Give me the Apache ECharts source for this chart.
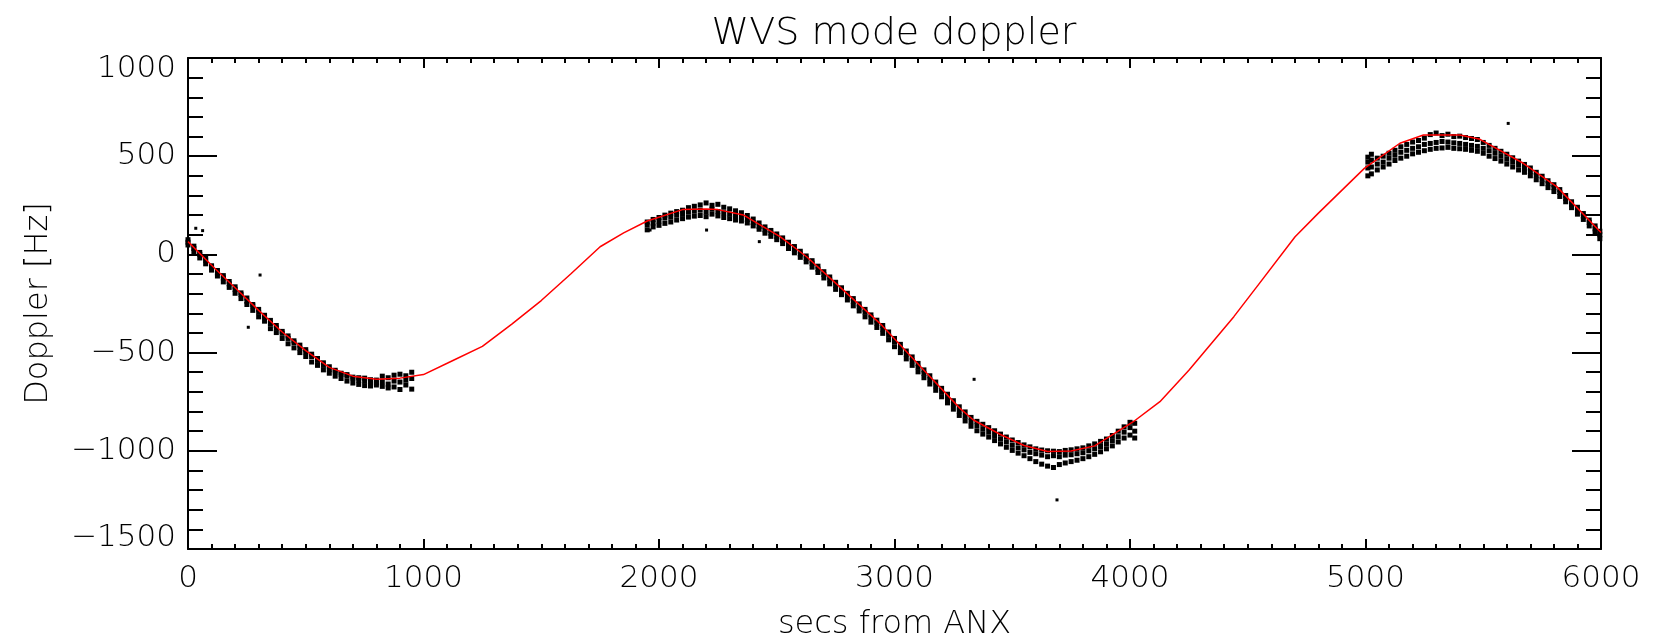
<!DOCTYPE html>
<html>
<head>
<meta charset="utf-8">
<script src="https://cdn.jsdelivr.net/npm/echarts@6/dist/echarts.min.js"></script>
<style>
html,body{margin:0;padding:0;background:#fff;}
#chart{width:1653px;height:642px;}
</style>
</head>
<body>
<div id="chart"></div>
<script>
// ---- data ----
const titleText = 'WVS mode doppler';
const xName = 'secs from ANX';
const yName = 'Doppler [Hz]';
const xTicks = [0, 1000, 2000, 3000, 4000, 5000, 6000];
const yTicks = [-1500, -1000, -500, 0, 500, 1000];

// red model curve: time (s) and doppler (Hz)
const redT  = [0,100,200,300,400,500,600,700,800,900,1000,1125,1250,1375,1500,1625,1750,1850,1950,2100,2200,2250,2358,2429,2514,2627,2750,2938,3100,3278,3335,3450,3550,3650,3750,3850,4014,4127,4250,4441,4539,4701,4799,4995,5146,5246,5401,5486,5670,5812,6000];
const redHz = [65,-55,-170,-285,-395,-490,-575,-620,-636,-630,-612,-540,-468,-355,-235,-100,39,110,170,228,231,228,201,150,90,-12,-146,-351,-558,-784,-843,-917,-973,-1004,-1001,-975,-852,-750,-590,-317,-164,90,209,438,566,608,608,586,464,345,112];

// measured points, rows of [time, doppler values...]
const segA = [
 [0,62,48,75],[25,30,14,42],[50,0,-18,10],[75,-30,-48,-20],[100,-58,-80,-66],
 [125,-95,-110,-82],[150,-120,-140,-108],[175,-150,-168,-138],[200,-178,-198,-165],
 [225,-205,-225,-196],[250,-238,-255,-222],[275,-262,-285,-255],[300,-295,-318,-280],
 [325,-318,-340,-310],[350,-352,-378,-336],[375,-375,-398,-362],[400,-402,-428,-392],
 [425,-428,-455,-415],[450,-450,-476,-440],[475,-478,-500,-462],[500,-497,-520,-485],
 [525,-520,-548,-508],[550,-540,-565,-530],[575,-565,-588,-552],[600,-585,-605,-572],
 [625,-598,-620,-590],[650,-610,-632,-605],[675,-620,-645,-612],[700,-632,-655,-625],
 [725,-640,-662,-628],[750,-645,-668,-630],[775,-650,-670,-638],[800,-640,-665,-655],
 [825,-620,-672,-648],[850,-628,-660,-680],[875,-615,-645,-675],[900,-610,-650,-688],
 [925,-618,-640,-665],[950,-600,-632,-686]
];
const segB = [
 [1950,150,125,165],[1975,160,140,178],[2000,170,148,188],[2025,185,158,200],
 [2050,190,165,210],[2075,200,175,218],[2100,205,182,225],[2125,215,190,238],
 [2150,220,195,245],[2175,225,198,252],[2200,215,192,262],[2225,230,205,250],
 [2250,218,196,255],[2275,212,188,240],[2300,205,182,232],[2325,196,175,222],
 [2350,190,170,212],[2375,178,160,198],[2400,162,145,180],[2425,142,128,160],
 [2450,125,108,140],[2475,108,92,122],[2500,90,75,104],[2525,70,55,84],
 [2550,48,30,62],[2575,25,8,40],[2600,2,-15,16],[2625,-20,-38,-8],
 [2650,-45,-65,-32],[2675,-75,-92,-60],[2700,-102,-120,-88],[2725,-130,-150,-115],
 [2750,-158,-178,-142],[2775,-185,-205,-170],[2800,-212,-232,-198],[2825,-240,-262,-225],
 [2850,-268,-288,-252],[2875,-295,-318,-280],[2900,-322,-345,-308],[2925,-350,-372,-335],
 [2950,-380,-402,-362],[2975,-412,-435,-395],[3000,-445,-470,-428],[3025,-478,-500,-458],
 [3050,-510,-532,-492],[3075,-542,-565,-522],[3100,-575,-598,-555],[3125,-606,-628,-588],
 [3150,-638,-660,-618],[3175,-670,-692,-650],[3200,-702,-725,-682],[3225,-734,-756,-712],
 [3250,-765,-788,-745],[3275,-798,-820,-776],[3300,-825,-848,-802],[3325,-852,-875,-830],
 [3350,-872,-898,-850],[3375,-890,-915,-865],[3400,-905,-930,-882],[3425,-922,-948,-898],
 [3450,-940,-965,-915],[3475,-955,-982,-930],[3500,-972,-998,-945],[3525,-985,-1012,-958],
 [3550,-995,-1025,-970],[3575,-1008,-1040,-980],[3600,-1015,-1055,-990],[3625,-1022,-1068,-996],
 [3650,-1030,-1078,-1000],[3675,-1025,-1085,-1002],[3700,-1030,-1070,-1004],[3725,-1022,-1062,-998],
 [3750,-1020,-1055,-995],[3775,-1015,-1048,-990],[3800,-1010,-1040,-985],[3825,-1000,-1030,-975],
 [3850,-990,-1018,-965],[3875,-978,-1005,-952],[3900,-965,-990,-940],[3925,-948,-975,-922],
 [3950,-928,-955,-900],[3975,-905,-935,-878],[4000,-882,-920,-855],[4020,-860,-900,-935]
];
const segC = [
 [5010,400,440,470,495],[5025,410,445,480,510],[5050,430,460,490],[5075,445,470,500],
 [5100,460,490,515],[5125,478,505,530],[5150,490,520,548],[5175,500,530,560],
 [5200,512,540,572],[5225,520,548,580],[5250,528,560,592],[5275,535,565,610],
 [5300,540,570,618],[5325,542,575,605],[5350,545,572,612],[5375,540,568,600],
 [5400,538,565,602],[5425,535,560,595],[5450,530,555,590],[5475,525,550,585],
 [5500,515,540,570],[5525,500,528,555],[5550,488,515,540],[5575,475,500,525],
 [5600,460,485,510],[5625,445,470,492],[5650,430,455,475],[5675,418,440,458],
 [5700,400,422,440],[5725,380,402,418],[5750,360,382,398],[5775,340,360,375],
 [5800,320,340,355],[5825,295,315,330],[5850,268,285,300],[5875,238,255,268],
 [5900,205,225,240],[5925,178,195,208],[5950,145,162,175],[5975,115,130,145],
 [5995,80,100,118]
];
const outliers = [[33,133],[62,121],[306,-105],[256,-371],[1962,124],[2202,124],[2426,65],[3338,-636],[3690,-1250],[5606,667]];

// ---- build series data ----
const rowsToPoints = rows => rows.flatMap(r => r.slice(1).map(v => [r[0], v]));
const dots = rowsToPoints(segA).concat(rowsToPoints(segB), rowsToPoints(segC));
const redLine = redT.map((t, i) => [t, redHz[i]]);

const FONT = 'DejaVu Sans';
const txt = {color: '#000', fontFamily: FONT, fontWeight: 200};
const fmt = v => (v < 0 ? '\u2212' : '') + String(Math.abs(v));

function xAx(pos, show) {
  return {
    type: 'value', position: pos, min: xTicks[0], max: xTicks[xTicks.length - 1], interval: 1000,
    name: show ? xName : '', nameLocation: 'middle', nameGap: 60,
    nameTextStyle: Object.assign({fontSize: 32}, txt),
    axisLine: {show: true, onZero: false, lineStyle: {color: '#000', width: 2}},
    axisTick: {show: true, inside: true, length: 10, lineStyle: {color: '#000', width: 2}},
    minorTick: {show: true, splitNumber: 10, length: 5, lineStyle: {color: '#000', width: 2}},
    axisLabel: Object.assign({show: show, fontSize: 31, lineHeight: 26, margin: 17, formatter: fmt,
      showMinLabel: true, showMaxLabel: true}, txt),
    splitLine: {show: false}, minorSplitLine: {show: false}
  };
}
function yAx(pos, show) {
  return {
    type: 'value', position: pos, min: yTicks[0], max: yTicks[yTicks.length - 1], interval: 500,
    name: show ? yName : '', nameLocation: 'middle', nameGap: 133, nameRotate: 90,
    nameTextStyle: Object.assign({fontSize: 32}, txt),
    axisLine: {show: true, onZero: false, lineStyle: {color: '#000', width: 2}},
    axisTick: {show: true, inside: true, length: 29, lineStyle: {color: '#000', width: 2}},
    minorTick: {show: true, splitNumber: 5, length: 15, lineStyle: {color: '#000', width: 2}},
    axisLabel: Object.assign({show: show, fontSize: 31, lineHeight: 22, margin: 12, formatter: fmt,
      showMinLabel: true, showMaxLabel: true,
      verticalAlignMaxLabel: 'top', verticalAlignMinLabel: 'bottom'}, txt),
    splitLine: {show: false}, minorSplitLine: {show: false}
  };
}

const chart = echarts.init(document.getElementById('chart'), null, {renderer: 'canvas'});
chart.setOption({
  animation: false,
  backgroundColor: '#fff',
  title: {
    text: titleText, left: 889, top: 10, textAlign: 'center',
    textStyle: {fontSize: 38, fontWeight: 200, color: '#000', fontFamily: FONT}
  },
  grid: {left: 188, right: 52, top: 58, bottom: 93, containLabel: false, outerBoundsMode: 'none'},
  xAxis: [xAx('bottom', true), xAx('top', false)],
  yAxis: [yAx('left', true), yAx('right', false)],
  series: [
    {
      type: 'scatter', xAxisIndex: 0, yAxisIndex: 0, data: dots,
      symbol: 'rect', symbolSize: 5, itemStyle: {color: '#000', opacity: 1}, z: 2
    },
    {
      type: 'scatter', xAxisIndex: 0, yAxisIndex: 0, data: outliers,
      symbol: 'rect', symbolSize: 3, itemStyle: {color: '#000', opacity: 1}, z: 2
    },
    {
      type: 'line', xAxisIndex: 0, yAxisIndex: 0, data: redLine,
      symbol: 'none', smooth: false, lineStyle: {color: '#ff0000', width: 1.5}, z: 3
    }
  ]
});
</script>
</body>
</html>
